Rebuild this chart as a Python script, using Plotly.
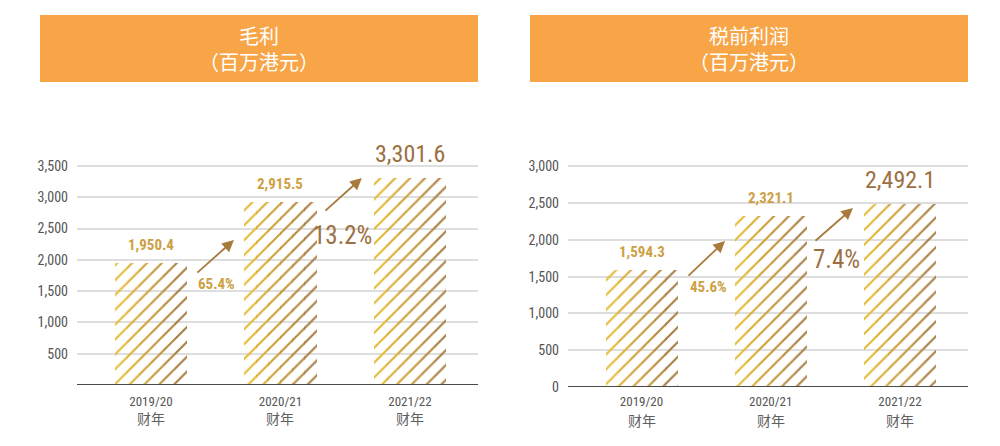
import plotly.graph_objects as go

# ---------------- data ----------------
categories = ["2019/20", "2020/21", "2021/22"]
cat_suffix = "财年"
gross_profit = [1950.4, 2915.5, 3301.6]
gross_growth = ["65.4%", "13.2%"]
pbt = [1594.3, 2321.1, 2492.1]
pbt_growth = ["45.6%", "7.4%"]
left_title = "毛利<br>（百万港元）"
right_title = "税前利润<br>（百万港元）"
left_ticks = [500, 1000, 1500, 2000, 2500, 3000, 3500]
right_ticks = [0, 500, 1000, 1500, 2000, 2500, 3000]

# ---------------- style ----------------
W, H = 1000, 446
NUM_FONT = "Roboto Condensed, Liberation Sans Narrow, Roboto, sans-serif"
CJK_FONT = "Noto Sans CJK SC, sans-serif"
ORANGE = "#F8A548"
GOLD = "#CDA042"
BROWN = "#9C7042"
GRID = "#DEDEDE"
AXIS = "#4A4A4A"
TICK = "#555555"
strip_cols = ["#E6BA36", "#DAAE38", "#CEA23B", "#C2963E", "#B58A41", "#A87E45"]
BAR_W = 0.556

def px2py(p):
    return 1 - p / H

panels = [
    dict(xa="x", ya="y", xdom=(77, 478), ydom=(385, 140), yrange=(0, (385 - 140) / 31.3 * 500),
         xrange=(-0.571, 2.526), vals=gross_profit, growth=gross_growth, ticks=left_ticks,
         title=left_title, box=(40, 478), standoff=7, sub_y=418,
         arrows=[((0.347, 1773), (0.641, 2316)), ((1.336, 2764), (1.629, 3307))],
         glab=[(0.51, 1613, False), (1.48, 2396, True)]),
    dict(xa="x2", ya="y2", xdom=(568, 968), ydom=(387, 140), yrange=(0, (387 - 140) / 36.8 * 500),
         xrange=(-0.569, 2.526), vals=pbt, growth=pbt_growth, ticks=right_ticks,
         title=right_title, box=(530, 968), standoff=5, sub_y=420,
         arrows=[((0.352, 1495), (0.646, 1984)), ((1.334, 1970), (1.636, 2432))],
         glab=[(0.515, 1359, False), (1.505, 1726, True)]),
]

fig = go.Figure()
shapes = []
annotations = []
N = len(strip_cols)
for k, p in enumerate(panels):
    xs = list(range(len(categories)))
    for i, c in enumerate(strip_cols):
        fig.add_trace(go.Bar(
            x=xs, y=p["vals"], xaxis=p["xa"], yaxis=p["ya"],
            width=[BAR_W / N + 0.002] * 3, offset=-BAR_W / 2 + i * BAR_W / N,
            marker=dict(color="rgba(0,0,0,0)", line=dict(width=0),
                        pattern=dict(shape="/", fgcolor=c, fgopacity=1, bgcolor="rgba(0,0,0,0)",
                                     size=10.5, solidity=0.2, fillmode="overlay")),
            showlegend=False, hoverinfo="skip"))
    sfx = "" if k == 0 else "2"
    xd = (p["xdom"][0] / W, p["xdom"][1] / W)
    yd = (px2py(p["ydom"][0]), px2py(p["ydom"][1]))
    fig.layout["xaxis" + sfx] = dict(
        domain=xd, range=list(p["xrange"]), tickvals=xs, ticktext=categories,
        tickfont=dict(family=NUM_FONT, size=13, color=TICK), showgrid=False, zeroline=False,
        showline=False, ticks="", ticklabelstandoff=p["standoff"], fixedrange=True,
        anchor="y" + sfx, automargin=False)
    fig.layout["yaxis" + sfx] = dict(
        domain=yd, range=list(p["yrange"]), tickvals=p["ticks"],
        ticktext=[f"{v:,}" for v in p["ticks"]],
        tickfont=dict(family=NUM_FONT, size=14, color=TICK), showgrid=True, gridcolor=GRID,
        gridwidth=2, zeroline=False, showline=False, ticks="", ticklabelstandoff=8,
        anchor="x" + sfx, automargin=False)
    # second line of category labels
    for i in xs:
        annotations.append(dict(xref=p["xa"], yref="paper", x=i, y=px2py(p["sub_y"]), text=cat_suffix,
                                showarrow=False, xanchor="center", yanchor="middle",
                                font=dict(family=CJK_FONT, size=14, color="#606060")))
    # baseline
    shapes.append(dict(type="line", xref=f"{p['xa']} domain", yref=p["ya"], x0=0, x1=1, y0=0, y1=0,
                       line=dict(color=AXIS, width=2)))
    # title box
    shapes.append(dict(type="rect", xref="paper", yref="paper", x0=p["box"][0] / W, x1=p["box"][1] / W,
                       y0=px2py(82), y1=px2py(15), fillcolor=ORANGE, line=dict(width=0), layer="below"))
    annotations.append(dict(xref="paper", yref="paper", x=(p["box"][0] + p["box"][1]) / 2 / W,
                            y=px2py(49), xanchor="center", yanchor="middle", text=p["title"],
                            showarrow=False, font=dict(family=CJK_FONT, size=20, color="white"),
                            align="center"))
    # value labels
    for i, v in enumerate(p["vals"]):
        big = i == len(p["vals"]) - 1
        annotations.append(dict(xref=p["xa"], yref=p["ya"], x=i, y=v, text=f"{v:,.1f}",
                                showarrow=False, yanchor="bottom", yshift=8 if big else 7,
                                font=dict(family=NUM_FONT, size=24 if big else 15,
                                          color=BROWN if big else GOLD,
                                          weight="normal" if big else "bold")))
    # growth arrows
    for (t, h) in p["arrows"]:
        annotations.append(dict(xref=p["xa"], yref=p["ya"], axref=p["xa"], ayref=p["ya"],
                                x=h[0], y=h[1], ax=t[0], ay=t[1], text="", showarrow=True,
                                arrowhead=2, arrowsize=1.3, arrowwidth=1.8, arrowcolor="#A87A3C"))
    for g, (gx, gy, big) in zip(p["growth"], p["glab"]):
        annotations.append(dict(xref=p["xa"], yref=p["ya"], x=gx, y=gy, text=g, showarrow=False,
                                font=dict(family=NUM_FONT, size=25 if big else 15,
                                          color=BROWN if big else GOLD,
                                          weight="normal" if big else "bold")))

fig.update_layout(
    width=W, height=H, autosize=False, margin=dict(l=0, r=0, t=0, b=0, pad=0, autoexpand=False),
    paper_bgcolor="white", plot_bgcolor="white", barmode="overlay", bargap=0,
    shapes=shapes, annotations=annotations, showlegend=False)

fig.write_html("out.html", config={"displayModeBar": False, "responsive": False})
